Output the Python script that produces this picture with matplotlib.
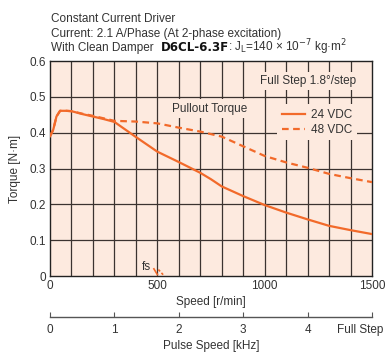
import matplotlib
matplotlib.use("Agg")
import matplotlib.pyplot as plt
from matplotlib.transforms import ScaledTranslation

plt.rcParams['font.family'] = ['Liberation Sans Narrow', 'Liberation Sans', 'DejaVu Sans']
plt.rcParams['mathtext.fontset'] = 'custom'
plt.rcParams['mathtext.rm'] = 'Liberation Sans Narrow'
plt.rcParams['mathtext.it'] = 'Liberation Sans Narrow'

# data
speed_24 = [0, 15, 30, 47, 75, 100, 150, 200, 250, 300, 400, 500, 600, 700, 750, 800,
            900, 1000, 1100, 1200, 1300, 1400, 1500]
torque_24 = [0.39, 0.408, 0.445, 0.461, 0.461, 0.46, 0.452, 0.445, 0.438, 0.43, 0.388,
             0.347, 0.318, 0.288, 0.27, 0.25, 0.223, 0.198, 0.177, 0.158, 0.14, 0.128, 0.117]
speed_48 = [0, 15, 30, 47, 75, 100, 150, 200, 250, 300, 400, 500, 600, 700, 800, 900,
            1000, 1100, 1200, 1300, 1400, 1500]
torque_48 = [0.39, 0.408, 0.445, 0.461, 0.461, 0.46, 0.453, 0.447, 0.44, 0.433, 0.431,
             0.426, 0.414, 0.403, 0.389, 0.362, 0.335, 0.317, 0.302, 0.285, 0.273, 0.262]
fs_24 = ([484, 500], [0.02, 0.004])
fs_48 = ([505, 528], [0.018, 0.003])
speed_ticks = [0, 500, 1000, 1500]
torque_ticks = [0, 0.1, 0.2, 0.3, 0.4, 0.5, 0.6]
pulse_ticks = [0, 1, 2, 3, 4, 5]
pulse_labels = ['0', '1', '2', '3', '4', 'Full Step']

orange = '#f26a2a'
peach = '#fdeadf'
grid_c = '#3b3330'
txt_c = '#333333'

fig = plt.figure(figsize=(3.87, 3.52), dpi=100)
ax = fig.add_axes([0.1292, 0.2159, 0.8320, 0.6108])
ax.set_facecolor(peach)
ax.set_xlim(0, 1500)
ax.set_ylim(0, 0.6)
for x in range(100, 1500, 100):
    ax.axvline(x, color=grid_c, lw=0.9, zorder=1)
for y in [0.1, 0.2, 0.3, 0.4, 0.5]:
    ax.axhline(y, color=grid_c, lw=0.9, zorder=1)

ax.plot(speed_48, torque_48, color=orange, lw=1.6, ls=(0, (3, 2)), zorder=3, label='48 VDC')
ax.plot(speed_24, torque_24, color=orange, lw=1.6, zorder=4, label='24 VDC')
ax.plot(*fs_24, color=orange, lw=1.2, zorder=4)
ax.plot(*fs_48, color=orange, lw=1.2, ls=(0, (1.5, 1.2)), zorder=4)

ax.set_xticks(speed_ticks)
ax.set_yticks(torque_ticks)
ax.set_yticklabels(['0', '0.1', '0.2', '0.3', '0.4', '0.5', '0.6'])
ax.tick_params(length=0, labelsize=8.5, colors=txt_c, pad=3)
for s in ax.spines.values():
    s.set_color('#222222')
    s.set_linewidth(1.0)
ax.set_xlabel('Speed [r/min]', fontsize=8.5, color=txt_c, labelpad=3)
ax.set_ylabel('Torque [N·m]', fontsize=8.5, color=txt_c, labelpad=6)

h, l = ax.get_legend_handles_labels()
leg = ax.legend(h[::-1], l[::-1], loc='center', bbox_to_anchor=(0.83, 0.715),
                fontsize=8.5, frameon=True, facecolor=peach, edgecolor='none',
                framealpha=1, handlelength=2.0, handletextpad=0.5, borderpad=0.3,
                labelspacing=0.25, borderaxespad=0)
leg.get_frame().set_boxstyle('square', pad=0.1)
leg.set_zorder(6)
for t in leg.get_texts():
    t.set_color(txt_c)

ax.text(0.80, 0.907, 'Full Step 1.8°/step', transform=ax.transAxes, fontsize=8.5,
        color=txt_c, ha='center', va='center',
        bbox=dict(facecolor=peach, edgecolor='none', pad=2.5), zorder=5)
ax.text(0.497, 0.779, 'Pullout Torque', transform=ax.transAxes, fontsize=8.5,
        color=txt_c, ha='center', va='center',
        bbox=dict(facecolor=peach, edgecolor='none', pad=2.5), zorder=5)
ax.text(0.30, 0.04, 'fs', transform=ax.transAxes, fontsize=8.5,
        color=txt_c, ha='center', va='center',
        bbox=dict(facecolor=peach, edgecolor='none', pad=0.5), zorder=5)

# pulse speed axis
ax2 = fig.add_axes([0.1292, 0.1005, 0.8320, 0.001])
ax2.set_xlim(0, 5)
ax2.set_ylim(0, 1)
ax2.patch.set_visible(False)
for k in ['top', 'left', 'right']:
    ax2.spines[k].set_visible(False)
ax2.spines['bottom'].set_color('#555555')
ax2.spines['bottom'].set_linewidth(1.0)
ax2.set_yticks([])
ax2.set_xticks(pulse_ticks)
ax2.set_xticklabels(pulse_labels)
ax2.tick_params(axis='x', direction='in', length=3.5, color='#555555',
                labelsize=8.5, labelcolor=txt_c, pad=5)
last = ax2.get_xticklabels()[-1]
last.set_transform(last.get_transform() + ScaledTranslation(-0.12, 0, fig.dpi_scale_trans))
ax2.set_xlabel('Pulse Speed [kHz]', fontsize=8.5, color=txt_c, labelpad=3)

# header text
fig.text(51 / 387, 1 - 22 / 352, 'Constant Current Driver', fontsize=8.5, color=txt_c)
fig.text(51 / 387, 1 - 37 / 352, 'Current: 2.1 A/Phase (At 2-phase excitation)',
         fontsize=8.5, color=txt_c)
fig.text(51 / 387, 1 - 51 / 352, 'With Clean Damper', fontsize=8.5, color=txt_c)
fig.text(161 / 387, 1 - 51 / 352, 'D6CL-6.3F', fontsize=8.5, color='#111111',
         fontweight='bold', family=['DejaVu Sans'])
fig.text(228 / 387, 1 - 51 / 352, r': J$_{\mathrm{L}}$=140 × 10$^{-7}$ kg·m$^{2}$',
         fontsize=8.5, color=txt_c)

fig.savefig('out.png', dpi=100)
